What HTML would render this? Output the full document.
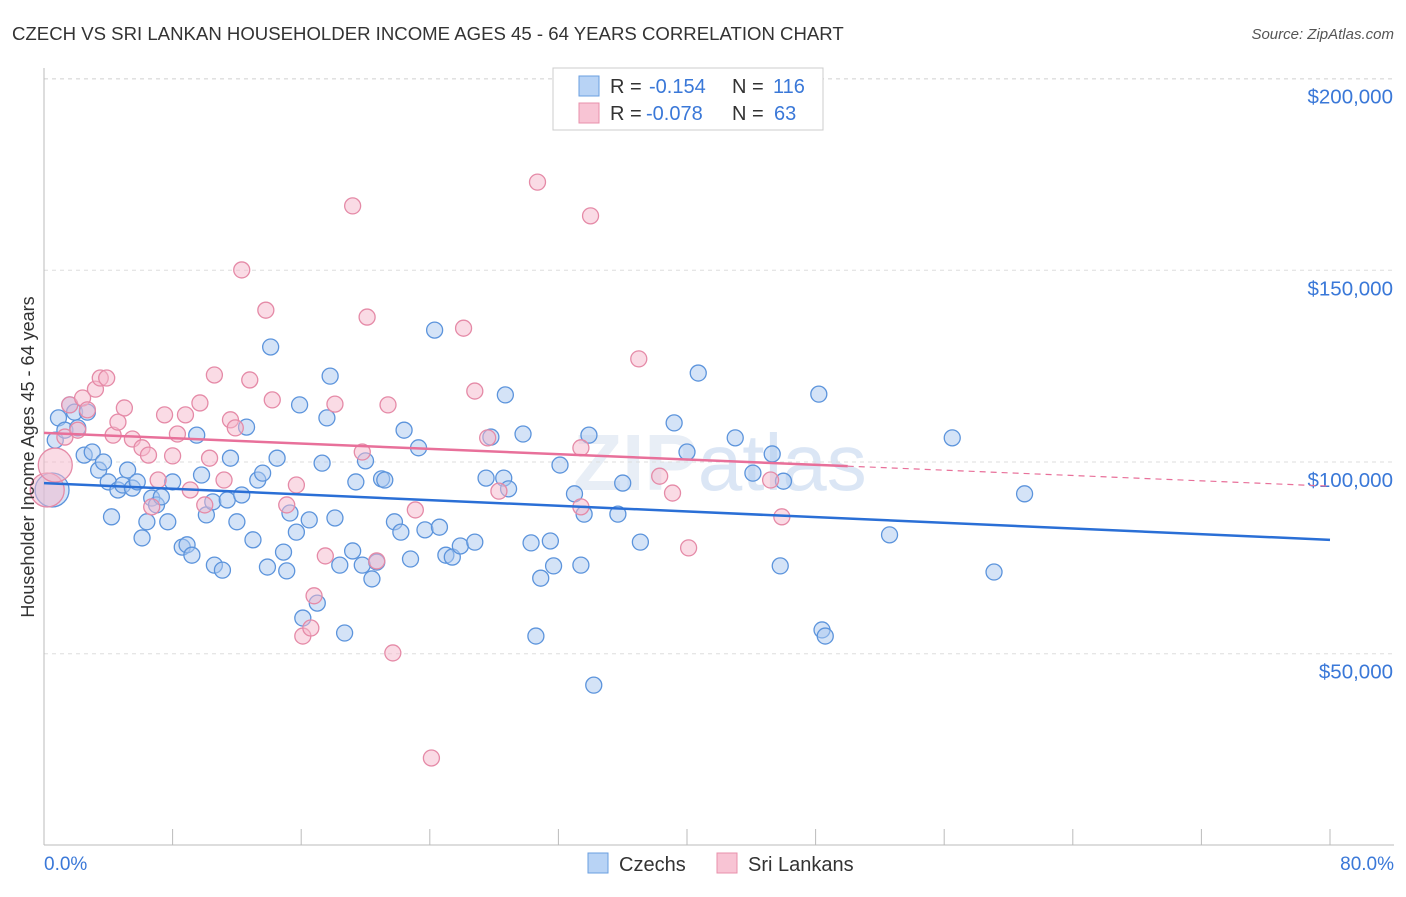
<!DOCTYPE html>
<html><head><meta charset="utf-8"><style>
body{margin:0;background:#fff;font-family:"Liberation Sans",sans-serif}
svg text{font-family:"Liberation Sans",sans-serif}
</style></head><body>
<svg id="chart" width="1406" height="892" xmlns="http://www.w3.org/2000/svg">
<text x="12" y="40" font-size="18.6" fill="#333">CZECH VS SRI LANKAN HOUSEHOLDER INCOME AGES 45 - 64 YEARS CORRELATION CHART</text>
<text x="1394" y="39" font-size="15" fill="#555" text-anchor="end" font-style="italic">Source: ZipAtlas.com</text>
<text x="720" y="490" font-size="80" fill="#e8eef6" text-anchor="middle" font-weight="bold">ZIP<tspan fill="#dbe6f5" font-weight="normal">atlas</tspan></text>
<g id="grid"></g>
<g id="axes"></g>
<g id="pts"></g>
<g id="trends"></g>
<text transform="translate(34,457) rotate(-90)" font-size="18" fill="#333" text-anchor="middle">Householder Income Ages 45 - 64 years</text>
<g>
<rect x="553" y="68" width="270" height="62" fill="#fff" stroke="#ccc"/>
<rect x="579" y="76" width="20" height="20" fill="#b8d3f5" stroke="#6a9fe0"/>
<rect x="579" y="103" width="20" height="20" fill="#f8c4d4" stroke="#e890ab"/>
<text x="610" y="93" font-size="20" fill="#333">R =</text>
<text x="649" y="93" font-size="20" fill="#3a78d8">-0.154</text>
<text x="732" y="93" font-size="20" fill="#333">N =</text>
<text x="773" y="93" font-size="20" fill="#3a78d8">116</text>
<text x="610" y="120" font-size="20" fill="#333">R =</text>
<text x="646" y="120" font-size="20" fill="#3a78d8">-0.078</text>
<text x="732" y="120" font-size="20" fill="#333">N =</text>
<text x="774" y="120" font-size="20" fill="#3a78d8">63</text>
</g>
<g>
<rect x="588" y="853" width="20" height="20" fill="#b8d3f5" stroke="#6a9fe0"/>
<text x="619" y="871" font-size="20" fill="#333">Czechs</text>
<rect x="717" y="853" width="20" height="20" fill="#f8c4d4" stroke="#e890ab"/>
<text x="748" y="871" font-size="20" fill="#333">Sri Lankans</text>
</g>
</svg>
<script>
const yTicks=[50000,100000,150000,200000];
const yTickLabels=["$50,000","$100,000","$150,000","$200,000"];
const xTickVals=[0,8,16,24,32,40,48,56,64,72,80];
const czX=[0.5,0.7,0.9,1.3,1.6,1.9,2.1,2.5,2.7,3.0,3.4,3.7,4.0,4.2,4.6,4.9,5.2,5.5,5.8,6.1,6.4,6.7,7.0,7.3,7.7,8.0,8.6,8.9,9.2,9.5,9.8,10.1,10.5,10.6,11.1,11.4,11.6,12.0,12.3,12.6,13.0,13.3,13.6,14.1,13.9,14.5,14.9,15.1,15.3,15.7,15.9,16.1,16.5,17.0,17.3,17.6,17.8,18.1,18.4,18.7,19.2,19.4,19.8,20.0,20.4,20.7,21.0,21.2,21.8,22.2,22.4,22.8,23.3,23.7,24.3,24.6,25.0,25.4,25.9,26.8,27.5,27.8,28.6,28.7,28.9,29.8,30.3,30.6,30.9,31.5,31.7,32.1,33.0,33.4,33.6,33.9,34.2,35.7,36.0,37.1,39.2,40.0,40.7,43.0,44.1,45.3,45.8,46.0,48.2,48.4,48.6,52.6,56.5,59.1,61.0];
const czY=[92.7,105.7,111.5,108.3,114.9,113.0,108.9,101.8,113.0,102.6,97.9,100,94.8,85.7,92.7,94.0,97.9,93.2,94.8,80.2,84.4,90.6,88.8,90.9,84.4,94.8,77.8,78.4,75.7,107.0,96.6,86.2,89.6,73.1,71.8,90.1,101.0,84.4,91.4,109.1,79.7,95.3,97.1,130.0,72.6,101.0,76.5,71.6,86.7,81.7,114.9,59.3,84.9,63.2,99.7,111.5,122.4,85.4,73.1,55.4,76.8,94.8,73.1,100.3,69.5,73.9,95.6,95.3,84.4,81.7,108.3,74.7,103.7,82.3,134.4,83.0,75.7,75.2,78.1,79.1,95.8,106.5,95.8,117.5,93.0,107.3,78.9,54.6,69.7,79.4,72.9,99.2,91.7,73.1,86.4,107.0,41.8,86.4,94.5,79.1,110.2,102.6,123.2,106.3,97.1,102.1,72.9,95.0,117.7,56.2,54.6,81.0,106.3,71.3,91.7];
const slX=[0.2,0.7,1.3,1.6,2.1,2.4,2.7,3.2,3.5,3.9,4.3,4.6,5.0,5.5,6.1,6.5,6.7,7.1,7.5,8.0,8.3,8.8,9.1,9.7,10.0,10.3,10.6,11.2,11.6,11.9,12.3,12.8,13.8,14.2,15.1,15.7,16.1,16.6,16.8,17.5,18.1,19.2,19.8,20.1,20.7,21.4,21.7,23.1,24.1,26.1,26.8,27.6,28.3,30.7,33.4,33.4,34.0,37.0,38.3,39.1,40.1,45.2,45.9];
const slY=[92.7,99.2,106.5,114.9,108.3,116.7,113.6,119.0,121.9,121.9,107.0,110.4,114.1,106.0,103.7,101.8,88.3,95.3,112.3,101.6,107.3,112.3,92.7,115.4,88.8,101.0,122.7,95.3,111.0,108.9,150.1,121.4,139.6,116.2,88.8,94.0,54.6,56.7,65.1,75.5,115.1,166.8,102.6,137.8,74.2,114.9,50.2,87.5,22.8,134.9,118.5,106.3,92.4,173.0,103.7,88.3,164.2,126.9,96.3,91.9,77.6,95.3,85.7];
const czTrend=[94.5,79.7];
const slTrend=[107.6,93.7];
const NS="http://www.w3.org/2000/svg";
const xs=v=>44+v*16.075;
const ys=k=>462-(k-100)*3.834;
function mk(tag,attrs,parent){const e=document.createElementNS(NS,tag);for(const k in attrs)e.setAttribute(k,attrs[k]);document.getElementById(parent).appendChild(e);return e;}
yTicks.forEach((t,i)=>{
 const y=ys(t/1000);
 const l=mk('line',{x1:44,x2:1394,y1:y,y2:y,stroke:'#ddd','stroke-dasharray':'4,4'},'grid');
 
 
 const tx=mk('text',{x:1393,y:y+25,'font-size':20.5,fill:'#3a78d8','text-anchor':'end'},'axes');
 tx.textContent=yTickLabels[i];
 
 
});
const tl=mk('line',{x1:44,x2:1394,y1:79,y2:79,stroke:'#ddd','stroke-dasharray':'4,4'},'grid');


const ax=mk('line',{x1:44,x2:1394,y1:845,y2:845,stroke:'#bbb'},'axes');


const ay=mk('line',{x1:44,x2:44,y1:68,y2:845,stroke:'#bbb'},'axes');


xTickVals.forEach(v=>{
 const t=mk('line',{x1:xs(v),x2:xs(v),y1:829,y2:845,stroke:'#bbb'},'axes');
 
 
});
const x0=mk('text',{x:44,y:870,'font-size':19,fill:'#3a78d8'},'axes');x0.textContent='0.0%';


const x1=mk('text',{x:1394,y:870,'font-size':19,fill:'#3a78d8','text-anchor':'end'},'axes');x1.textContent='80.0%';


function pts(X,Y,fill,stroke,name,bigIdx){
 X.forEach((v,i)=>{
  const r=bigIdx.includes(i)?17:8;
  const c=mk('circle',{cx:xs(v),cy:ys(Y[i]),r:r,fill:fill,'fill-opacity':0.5,stroke:stroke,'stroke-width':1.3},'pts');
  
  
 });
}
pts(czX,czY,'#a9c8f0','#5c94dc','czech-point',[0]);
pts(slX,slY,'#f5b8cb','#e58aa7','srilankan-point',[0,1]);
const b=mk('line',{x1:xs(0),y1:ys(czTrend[0]),x2:xs(80),y2:ys(czTrend[1]),stroke:'#2a6fd6','stroke-width':2.5},'trends');


const pm=slTrend[0]+(slTrend[1]-slTrend[0])*50/80;
const p=mk('line',{x1:xs(0),y1:ys(slTrend[0]),x2:xs(50),y2:ys(pm),stroke:'#e8709a','stroke-width':2.5},'trends');


const pd=mk('line',{x1:xs(50),y1:ys(pm),x2:xs(80),y2:ys(slTrend[1]),stroke:'#e8709a','stroke-width':1.2,'stroke-dasharray':'6,5'},'trends');


</script>
</body></html>
